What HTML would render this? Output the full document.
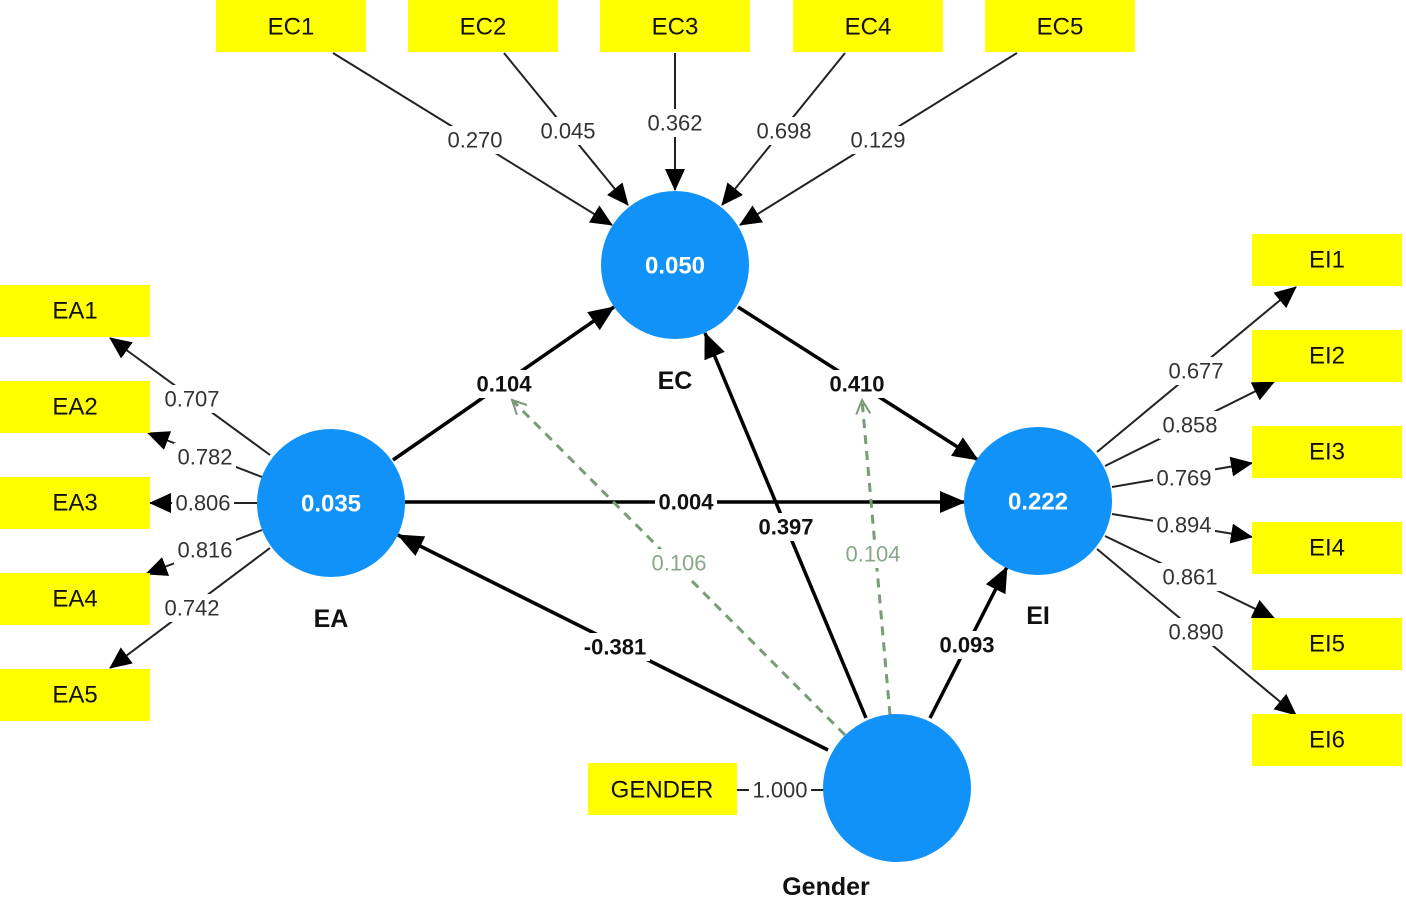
<!DOCTYPE html>
<html><head><meta charset="utf-8"><style>
html,body{margin:0;padding:0;background:#fff;}
svg{display:block;font-family:"Liberation Sans",Arial,sans-serif;}
.box{fill:#ffff00;}
.bt{font-size:24px;fill:#111;text-anchor:middle;dominant-baseline:central;}
.n{font-size:22px;fill:#333;text-anchor:middle;dominant-baseline:central;}
.b{font-size:22px;fill:#111;font-weight:bold;text-anchor:middle;dominant-baseline:central;}
.g{font-size:22px;fill:#8aa688;text-anchor:middle;dominant-baseline:central;}
.lbl{font-size:25px;fill:#111;font-weight:bold;text-anchor:middle;dominant-baseline:central;}
.cv{font-size:24px;fill:#fff;font-weight:bold;text-anchor:middle;dominant-baseline:central;}
.t{stroke:#222;stroke-width:2;fill:none;}
.k{stroke:#000;stroke-width:3.5;fill:none;}
.d{stroke:#7a9a78;stroke-width:3;stroke-dasharray:9 7;fill:none;}
.bg{fill:#fff;}
</style></head><body>
<svg width="1406" height="903" viewBox="0 0 1406 903">
<defs>
<marker id="a" markerWidth="10" markerHeight="10" refX="9" refY="5" orient="auto" markerUnits="userSpaceOnUse" viewBox="0 0 10 10"><path d="M0,0 L10,5 L0,10z" fill="#000"/></marker>
<marker id="a2" markerWidth="26" markerHeight="22" refX="25" refY="11" orient="auto" markerUnits="userSpaceOnUse" viewBox="0 0 26 22"><path d="M0,0 L26,11 L0,22z" fill="#000"/></marker>
<marker id="o" markerWidth="18" markerHeight="18" refX="16" refY="9" orient="auto" markerUnits="userSpaceOnUse" viewBox="0 0 18 18"><path d="M2,2 L16,9 L2,16" fill="none" stroke="#7a9a78" stroke-width="2"/></marker>
<marker id="s" markerWidth="22" markerHeight="20" refX="21" refY="10" orient="auto" markerUnits="userSpaceOnUse" viewBox="0 0 22 20"><path d="M0,0 L22,10 L0,20z" fill="#000"/></marker>
</defs>

<!-- indicator lines EC -->
<line class="t" x1="333" y1="53" x2="612" y2="225" marker-end="url(#s)"/>
<line class="t" x1="504" y1="53" x2="628" y2="205" marker-end="url(#s)"/>
<line class="t" x1="675" y1="53" x2="675" y2="190" marker-end="url(#s)"/>
<line class="t" x1="845" y1="53" x2="722" y2="205" marker-end="url(#s)"/>
<line class="t" x1="1017" y1="53" x2="740" y2="225" marker-end="url(#s)"/>
<!-- EA -->
<line class="t" x1="270" y1="455" x2="110" y2="338" marker-end="url(#s)"/>
<line class="t" x1="262" y1="477" x2="148" y2="433" marker-end="url(#s)"/>
<line class="t" x1="257" y1="503" x2="150" y2="503" marker-end="url(#s)"/>
<line class="t" x1="262" y1="530" x2="146" y2="574" marker-end="url(#s)"/>
<line class="t" x1="270" y1="548" x2="110" y2="668" marker-end="url(#s)"/>
<!-- EI -->
<line class="t" x1="1097" y1="452" x2="1296" y2="287" marker-end="url(#s)"/>
<line class="t" x1="1105" y1="466" x2="1274" y2="382" marker-end="url(#s)"/>
<line class="t" x1="1112" y1="487" x2="1252" y2="463" marker-end="url(#s)"/>
<line class="t" x1="1112" y1="514" x2="1252" y2="537" marker-end="url(#s)"/>
<line class="t" x1="1105" y1="536" x2="1274" y2="618" marker-end="url(#s)"/>
<line class="t" x1="1097" y1="549" x2="1296" y2="715" marker-end="url(#s)"/>
<line class="t" x1="737" y1="790" x2="824" y2="790"/>

<!-- structural -->
<line class="k" x1="393" y1="460" x2="614" y2="307" marker-end="url(#a2)"/>
<line class="k" x1="738" y1="307" x2="978" y2="460" marker-end="url(#a2)"/>
<line class="k" x1="405" y1="502" x2="965" y2="502" marker-end="url(#a2)"/>
<line class="k" x1="866" y1="718" x2="705" y2="333" marker-end="url(#a2)"/>
<line class="k" x1="828" y1="750" x2="398" y2="535" marker-end="url(#a2)"/>
<line class="k" x1="930" y1="718" x2="1007" y2="567" marker-end="url(#a2)"/>
<line class="d" x1="845" y1="735" x2="512" y2="400" marker-end="url(#o)"/>
<line class="d" x1="890" y1="715" x2="862" y2="400" marker-end="url(#o)"/>

<!-- circles -->
<circle cx="675" cy="265" r="74" fill="#1192f9"/>
<circle cx="331" cy="503" r="74" fill="#1192f9"/>
<circle cx="1038" cy="501" r="74" fill="#1192f9"/>
<circle cx="897" cy="788" r="74" fill="#1192f9"/>
<text class="cv" x="675" y="266">0.050</text>
<text class="cv" x="331" y="504">0.035</text>
<text class="cv" x="1038" y="502">0.222</text>
<text class="lbl" x="675" y="381">EC</text>
<text class="lbl" x="331" y="619">EA</text>
<text class="lbl" x="1038" y="616">EI</text>
<text class="lbl" x="826" y="887">Gender</text>

<!-- boxes -->
<rect class="box" x="216" y="0" width="150" height="52"/><text class="bt" x="291" y="27">EC1</text>
<rect class="box" x="408" y="0" width="150" height="52"/><text class="bt" x="483" y="27">EC2</text>
<rect class="box" x="600" y="0" width="150" height="52"/><text class="bt" x="675" y="27">EC3</text>
<rect class="box" x="793" y="0" width="150" height="52"/><text class="bt" x="868" y="27">EC4</text>
<rect class="box" x="985" y="0" width="150" height="52"/><text class="bt" x="1060" y="27">EC5</text>
<rect class="box" x="0" y="285" width="150" height="52"/><text class="bt" x="75" y="311">EA1</text>
<rect class="box" x="0" y="381" width="150" height="52"/><text class="bt" x="75" y="407">EA2</text>
<rect class="box" x="0" y="477" width="150" height="52"/><text class="bt" x="75" y="503">EA3</text>
<rect class="box" x="0" y="573" width="150" height="52"/><text class="bt" x="75" y="599">EA4</text>
<rect class="box" x="0" y="669" width="150" height="52"/><text class="bt" x="75" y="695">EA5</text>
<rect class="box" x="1252" y="234" width="150" height="52"/><text class="bt" x="1327" y="260">EI1</text>
<rect class="box" x="1252" y="330" width="150" height="52"/><text class="bt" x="1327" y="356">EI2</text>
<rect class="box" x="1252" y="426" width="150" height="52"/><text class="bt" x="1327" y="452">EI3</text>
<rect class="box" x="1252" y="522" width="150" height="52"/><text class="bt" x="1327" y="548">EI4</text>
<rect class="box" x="1252" y="618" width="150" height="52"/><text class="bt" x="1327" y="644">EI5</text>
<rect class="box" x="1252" y="714" width="150" height="52"/><text class="bt" x="1327" y="740">EI6</text>
<rect class="box" x="588" y="763" width="149" height="52"/><text class="bt" x="662" y="790">GENDER</text>

<!-- label backgrounds + labels -->
<g>
<rect class="bg" x="444" y="126" width="62" height="28"/><text class="n" x="475" y="140">0.270</text>
<rect class="bg" x="537" y="117" width="62" height="28"/><text class="n" x="568" y="131">0.045</text>
<rect class="bg" x="644" y="109" width="62" height="28"/><text class="n" x="675" y="123">0.362</text>
<rect class="bg" x="753" y="117" width="62" height="28"/><text class="n" x="784" y="131">0.698</text>
<rect class="bg" x="847" y="126" width="62" height="28"/><text class="n" x="878" y="140">0.129</text>

<rect class="bg" x="161" y="385" width="62" height="28"/><text class="n" x="192" y="399">0.707</text>
<rect class="bg" x="174" y="443" width="62" height="28"/><text class="n" x="205" y="457">0.782</text>
<rect class="bg" x="172" y="489" width="62" height="28"/><text class="n" x="203" y="503">0.806</text>
<rect class="bg" x="174" y="536" width="62" height="28"/><text class="n" x="205" y="550">0.816</text>
<rect class="bg" x="161" y="594" width="62" height="28"/><text class="n" x="192" y="608">0.742</text>

<rect class="bg" x="1165" y="357" width="62" height="28"/><text class="n" x="1196" y="371">0.677</text>
<rect class="bg" x="1159" y="411" width="62" height="28"/><text class="n" x="1190" y="425">0.858</text>
<rect class="bg" x="1153" y="464" width="62" height="28"/><text class="n" x="1184" y="478">0.769</text>
<rect class="bg" x="1153" y="511" width="62" height="28"/><text class="n" x="1184" y="525">0.894</text>
<rect class="bg" x="1159" y="563" width="62" height="28"/><text class="n" x="1190" y="577">0.861</text>
<rect class="bg" x="1165" y="618" width="62" height="28"/><text class="n" x="1196" y="632">0.890</text>

<rect class="bg" x="749" y="777" width="62" height="28"/><text class="n" x="780" y="790">1.000</text>

<rect class="bg" x="473" y="370" width="62" height="28"/><text class="b" x="504" y="384">0.104</text>
<rect class="bg" x="826" y="370" width="62" height="28"/><text class="b" x="857" y="384">0.410</text>
<rect class="bg" x="655" y="488" width="62" height="28"/><text class="b" x="686" y="502">0.004</text>
<rect class="bg" x="755" y="513" width="62" height="28"/><text class="b" x="786" y="527">0.397</text>
<rect class="bg" x="580" y="633" width="70" height="28"/><text class="b" x="615" y="647">-0.381</text>
<rect class="bg" x="936" y="631" width="62" height="28"/><text class="b" x="967" y="645">0.093</text>
<rect class="bg" x="648" y="549" width="62" height="28"/><text class="g" x="679" y="563">0.106</text>
<rect class="bg" x="842" y="540" width="62" height="28"/><text class="g" x="873" y="554">0.104</text>
</g>
</svg>
</body></html>
